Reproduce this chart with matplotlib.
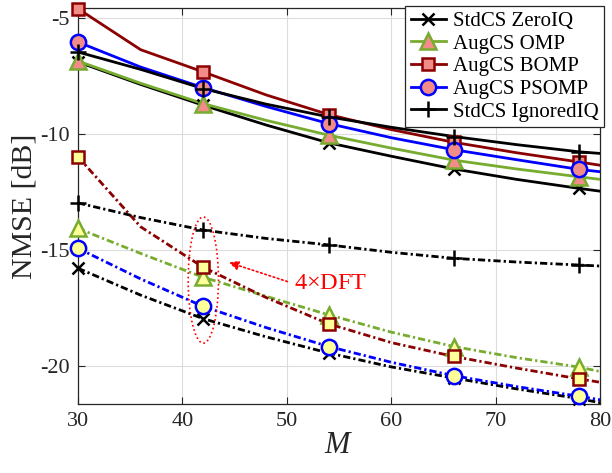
import matplotlib
matplotlib.use("Agg")
import matplotlib.pyplot as plt
from matplotlib.patches import Ellipse
from matplotlib.lines import Line2D

plt.rcParams['font.family'] = ['Liberation Serif', 'DejaVu Serif']
plt.rcParams['mathtext.fontset'] = 'custom'
plt.rcParams['mathtext.rm'] = 'Liberation Serif'
plt.rcParams['mathtext.it'] = 'Liberation Serif:italic'

# Number of measurements M (markers on every other sample)
M = [30, 36, 42, 48, 54, 60, 66, 72, 78, 84]

# NMSE [dB], plain DFT dictionary (solid)
zeroiq = [-6.88, -7.85, -8.75, -9.6, -10.37, -10.95, -11.5, -11.95, -12.34, -12.7]
omp = [-6.84, -7.8, -8.68, -9.4, -10.04, -10.6, -11.12, -11.5, -11.84, -12.17]
bomp = [-4.58, -6.35, -7.31, -8.3, -9.15, -9.8, -10.35, -10.8, -11.2, -11.62]
psomp = [-6.02, -7.1, -7.99, -8.8, -9.54, -10.15, -10.67, -11.1, -11.52, -11.82]
ignorediq = [-6.45, -7.2, -8.03, -8.7, -9.25, -9.7, -10.1, -10.45, -10.76, -10.97]

# NMSE [dB], 4x oversampled DFT dictionary (dash-dot)
zeroiq_4 = [-15.79, -16.95, -17.97, -18.75, -19.45, -20.05, -20.53, -21.0, -21.42, -21.95]
omp_4 = [-14.07, -15.15, -16.18, -17.0, -17.8, -18.55, -19.17, -19.65, -20.06, -20.63]
bomp_4 = [-10.98, -14.0, -15.75, -17.05, -18.19, -19.0, -19.6, -20.1, -20.57, -21.0]
psomp_4 = [-14.93, -16.25, -17.44, -18.35, -19.17, -19.85, -20.43, -20.9, -21.32, -21.77]
ignorediq_4 = [-12.97, -13.6, -14.14, -14.5, -14.78, -15.1, -15.36, -15.52, -15.65, -15.78]

labels = ['StdCS ZeroIQ', 'AugCS OMP', 'AugCS BOMP', 'AugCS PSOMP', 'StdCS IgnoredIQ']

GREEN = '#77AC30'
DRED = '#8B0000'
BLUE = '#0000FF'
BLACK = '#000000'
PINK = '#F28C88'
YELLOW = '#FFFF99'

styles = [
    (BLACK, 'x'),
    (GREEN, '^'),
    (DRED, 's'),
    (BLUE, 'o'),
    (BLACK, '+'),
]
msizes = {'x': 8, '^': 11, 's': 9, 'o': 11, '+': 12}
LW = 2.0
DASHDOT = (2.6, 1.1, 0.8, 1.1)

fig = plt.figure(figsize=(6.12, 4.73), dpi=100)
ax = fig.add_axes([0.1275, 0.146, 0.853, 0.837])

solid = [zeroiq, omp, bomp, psomp, ignorediq]
dashed = [zeroiq_4, omp_4, bomp_4, psomp_4, ignorediq_4]


def draw(y, col, mk, face, dashes=None):
    # line clipped to the axes box, markers free to overhang the frame
    ln, = ax.plot(M, y, color=col, lw=LW, zorder=3)
    if dashes is not None:
        ln.set_dashes(dashes)
    ax.plot(M[::2], y[::2], ls='none', marker=mk, ms=msizes[mk], mfc=face,
            mec=col, mew=1.8, clip_on=False, zorder=4)


handles = []
for (col, mk), y, lab in zip(styles, solid, labels):
    draw(y, col, mk, PINK)
    handles.append(Line2D([], [], color=col, lw=LW, marker=mk,
                          ms=msizes[mk], mfc=PINK, mec=col, mew=1.8,
                          label=lab))

for (col, mk), y in zip(styles, dashed):
    draw(y, col, mk, YELLOW, DASHDOT)

ax.set_xlim(30, 80)
ax.set_ylim(-21.65, -4.55)
ax.set_xticks([30, 40, 50, 60, 70, 80])
ax.set_yticks([-20, -15, -10, -5])
ax.set_yticklabels(['-20', '-15', '-10', '-5'])
ax.grid(True, color='#dcdcdc', lw=0.8)
ax.set_axisbelow(True)
ax.tick_params(direction='in', top=True, right=True, labelsize=16,
               colors='#262626', length=5, width=0.8, pad=6)
for s in ax.spines.values():
    s.set_color('#262626')
    s.set_linewidth(0.9)

ax.set_xlabel('$M$', fontsize=22, color='#262626', labelpad=0)
ax.set_ylabel('NMSE [dB]', fontsize=21.5, color='#262626', labelpad=2)

# annotation around the 4x DFT curves
ell = Ellipse((42, -16.3), 2.9, 5.45, fill=False, ec='red', ls=':', lw=1.2,
              zorder=5)
ax.add_patch(ell)
ax.annotate('', xy=(44.2, -15.5), xytext=(50.3, -16.4),
            arrowprops=dict(arrowstyle='-|>', color='red', ls=':', lw=1.2,
                            mutation_scale=14), zorder=5)
ax.text(50.7, -16.45, '4$\\times$DFT', color='red', fontsize=17.5,
        va='center', ha='left', zorder=5)

leg = ax.legend(handles=handles, loc='upper right',
                bbox_to_anchor=(1.008, 1.005), fontsize=15,
                frameon=True, fancybox=False, edgecolor='#262626',
                framealpha=1, borderpad=0.25, labelspacing=0.15,
                handlelength=1.7, handletextpad=0.35, borderaxespad=0)
leg.get_frame().set_linewidth(0.9)
leg.set_zorder(10)

fig.savefig('out.png', dpi=100)
